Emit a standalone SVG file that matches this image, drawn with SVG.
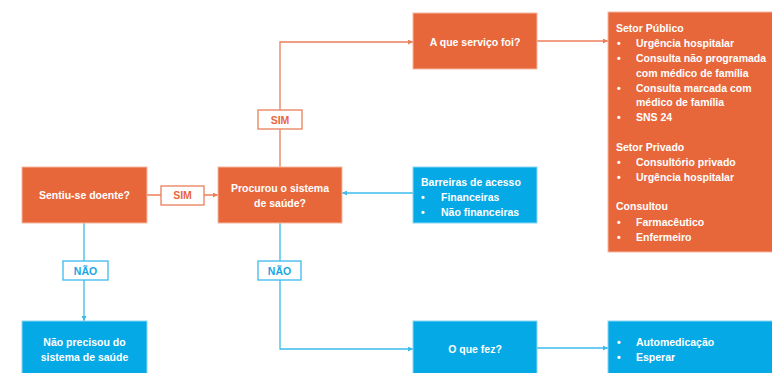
<svg xmlns="http://www.w3.org/2000/svg" width="772" height="373" viewBox="0 0 772 373">
<style>
text{font-family:"Liberation Sans",Arial,sans-serif;font-weight:bold;font-size:10.5px}
.o{fill:#E8673A;stroke:#F4B8A0;stroke-width:1}
.b{fill:#05A9E6;stroke:#8AD6F4;stroke-width:1}
.w{fill:#fff}
.c{text-anchor:middle}
.lo{fill:none;stroke:#EC7E5A;stroke-width:1.3}
.lb{fill:none;stroke:#3DBBEE;stroke-width:1.3}
.tag-o{fill:#fff;stroke:#EC7E5A;stroke-width:1.3}
.tag-b{fill:#fff;stroke:#3DBBEE;stroke-width:1.3}
.to{fill:#E8673A}
.tb{fill:#1AA6E2}
</style>
<defs>
<marker id="ao" viewBox="0 0 10 10" refX="10" refY="5" markerWidth="5" markerHeight="5" orient="auto" markerUnits="userSpaceOnUse"><path d="M0,0L10,5L0,10z" fill="#EC7E5A"/></marker>
<marker id="ab" viewBox="0 0 10 10" refX="10" refY="5" markerWidth="5" markerHeight="5" orient="auto" markerUnits="userSpaceOnUse"><path d="M0,0L10,5L0,10z" fill="#3DBBEE"/></marker>
</defs>
<g id="connectors">
<path class="lo" d="M147,195H218" marker-end="url(#ao)"/>
<path class="lo" d="M280,167V42H413" marker-end="url(#ao)"/>
<path class="lo" d="M537,41H608" marker-end="url(#ao)"/>
<path class="lb" d="M413,193H342" marker-end="url(#ab)"/>
<path class="lb" d="M84,223V321" marker-end="url(#ab)"/>
<path class="lb" d="M280,223V349H413" marker-end="url(#ab)"/>
<path class="lb" d="M537,348H608" marker-end="url(#ab)"/>
<rect class="tag-o" x="161" y="186" width="43" height="19"/>
<text class="to c" x="182.5" y="199">SIM</text>
<rect class="tag-o" x="258" y="110" width="44" height="19"/>
<text class="to c" x="280" y="123.5">SIM</text>
<rect class="tag-b" x="63" y="261" width="45" height="19"/>
<text class="tb c" x="85.5" y="274.5">NÃO</text>
<rect class="tag-b" x="258" y="261" width="43" height="19"/>
<text class="tb c" x="279.5" y="274.5">NÃO</text>
</g>
<g id="sentiu">
<rect class="o" x="22" y="167" width="125" height="56"/>
<text class="w c" x="84.5" y="199">Sentiu-se doente?</text>
</g>
<g id="procurou">
<rect class="o" x="218" y="167" width="124" height="56"/>
<text class="w c" x="280" y="192">Procurou o sistema</text>
<text class="w c" x="280" y="207">de saúde?</text>
</g>
<g id="servico">
<rect class="o" x="413" y="13" width="124" height="56"/>
<text class="w c" x="475" y="45.5">A que serviço foi?</text>
</g>
<g id="setores">
<rect class="o" x="608" y="12" width="166" height="240"/>
<text class="w" x="616" y="32">Setor Público</text>
<text class="w" x="617" y="47">•</text><text class="w" x="636" y="47">Urgência hospitalar</text>
<text class="w" x="617" y="62">•</text><text class="w" x="636" y="62">Consulta não programada</text>
<text class="w" x="636" y="77">com médico de família</text>
<text class="w" x="617" y="92">•</text><text class="w" x="636" y="92">Consulta marcada com</text>
<text class="w" x="636" y="106">médico de família</text>
<text class="w" x="617" y="121">•</text><text class="w" x="636" y="121">SNS 24</text>
<text class="w" x="616" y="151">Setor Privado</text>
<text class="w" x="617" y="166">•</text><text class="w" x="636" y="166">Consultório privado</text>
<text class="w" x="617" y="181">•</text><text class="w" x="636" y="181">Urgência hospitalar</text>
<text class="w" x="616" y="210">Consultou</text>
<text class="w" x="617" y="226">•</text><text class="w" x="636" y="226">Farmacêutico</text>
<text class="w" x="617" y="241">•</text><text class="w" x="636" y="241">Enfermeiro</text>
</g>
<g id="barreiras">
<rect class="b" x="413" y="167" width="124" height="56"/>
<text class="w" x="421" y="186">Barreiras de acesso</text>
<text class="w" x="421" y="201">•</text><text class="w" x="441" y="201">Financeiras</text>
<text class="w" x="421" y="216">•</text><text class="w" x="441" y="216">Não financeiras</text>
</g>
<g id="naoprecisou">
<rect class="b" x="22" y="321" width="125" height="56"/>
<text class="w c" x="84.5" y="346">Não precisou do</text>
<text class="w c" x="84.5" y="361">sistema de saúde</text>
</g>
<g id="quefez">
<rect class="b" x="413" y="321" width="124" height="56"/>
<text class="w c" x="475" y="353">O que fez?</text>
</g>
<g id="automedicacao">
<rect class="b" x="608" y="321" width="166" height="56"/>
<text class="w" x="617" y="346">•</text><text class="w" x="636" y="346">Automedicação</text>
<text class="w" x="617" y="361">•</text><text class="w" x="636" y="361">Esperar</text>
</g>
</svg>
